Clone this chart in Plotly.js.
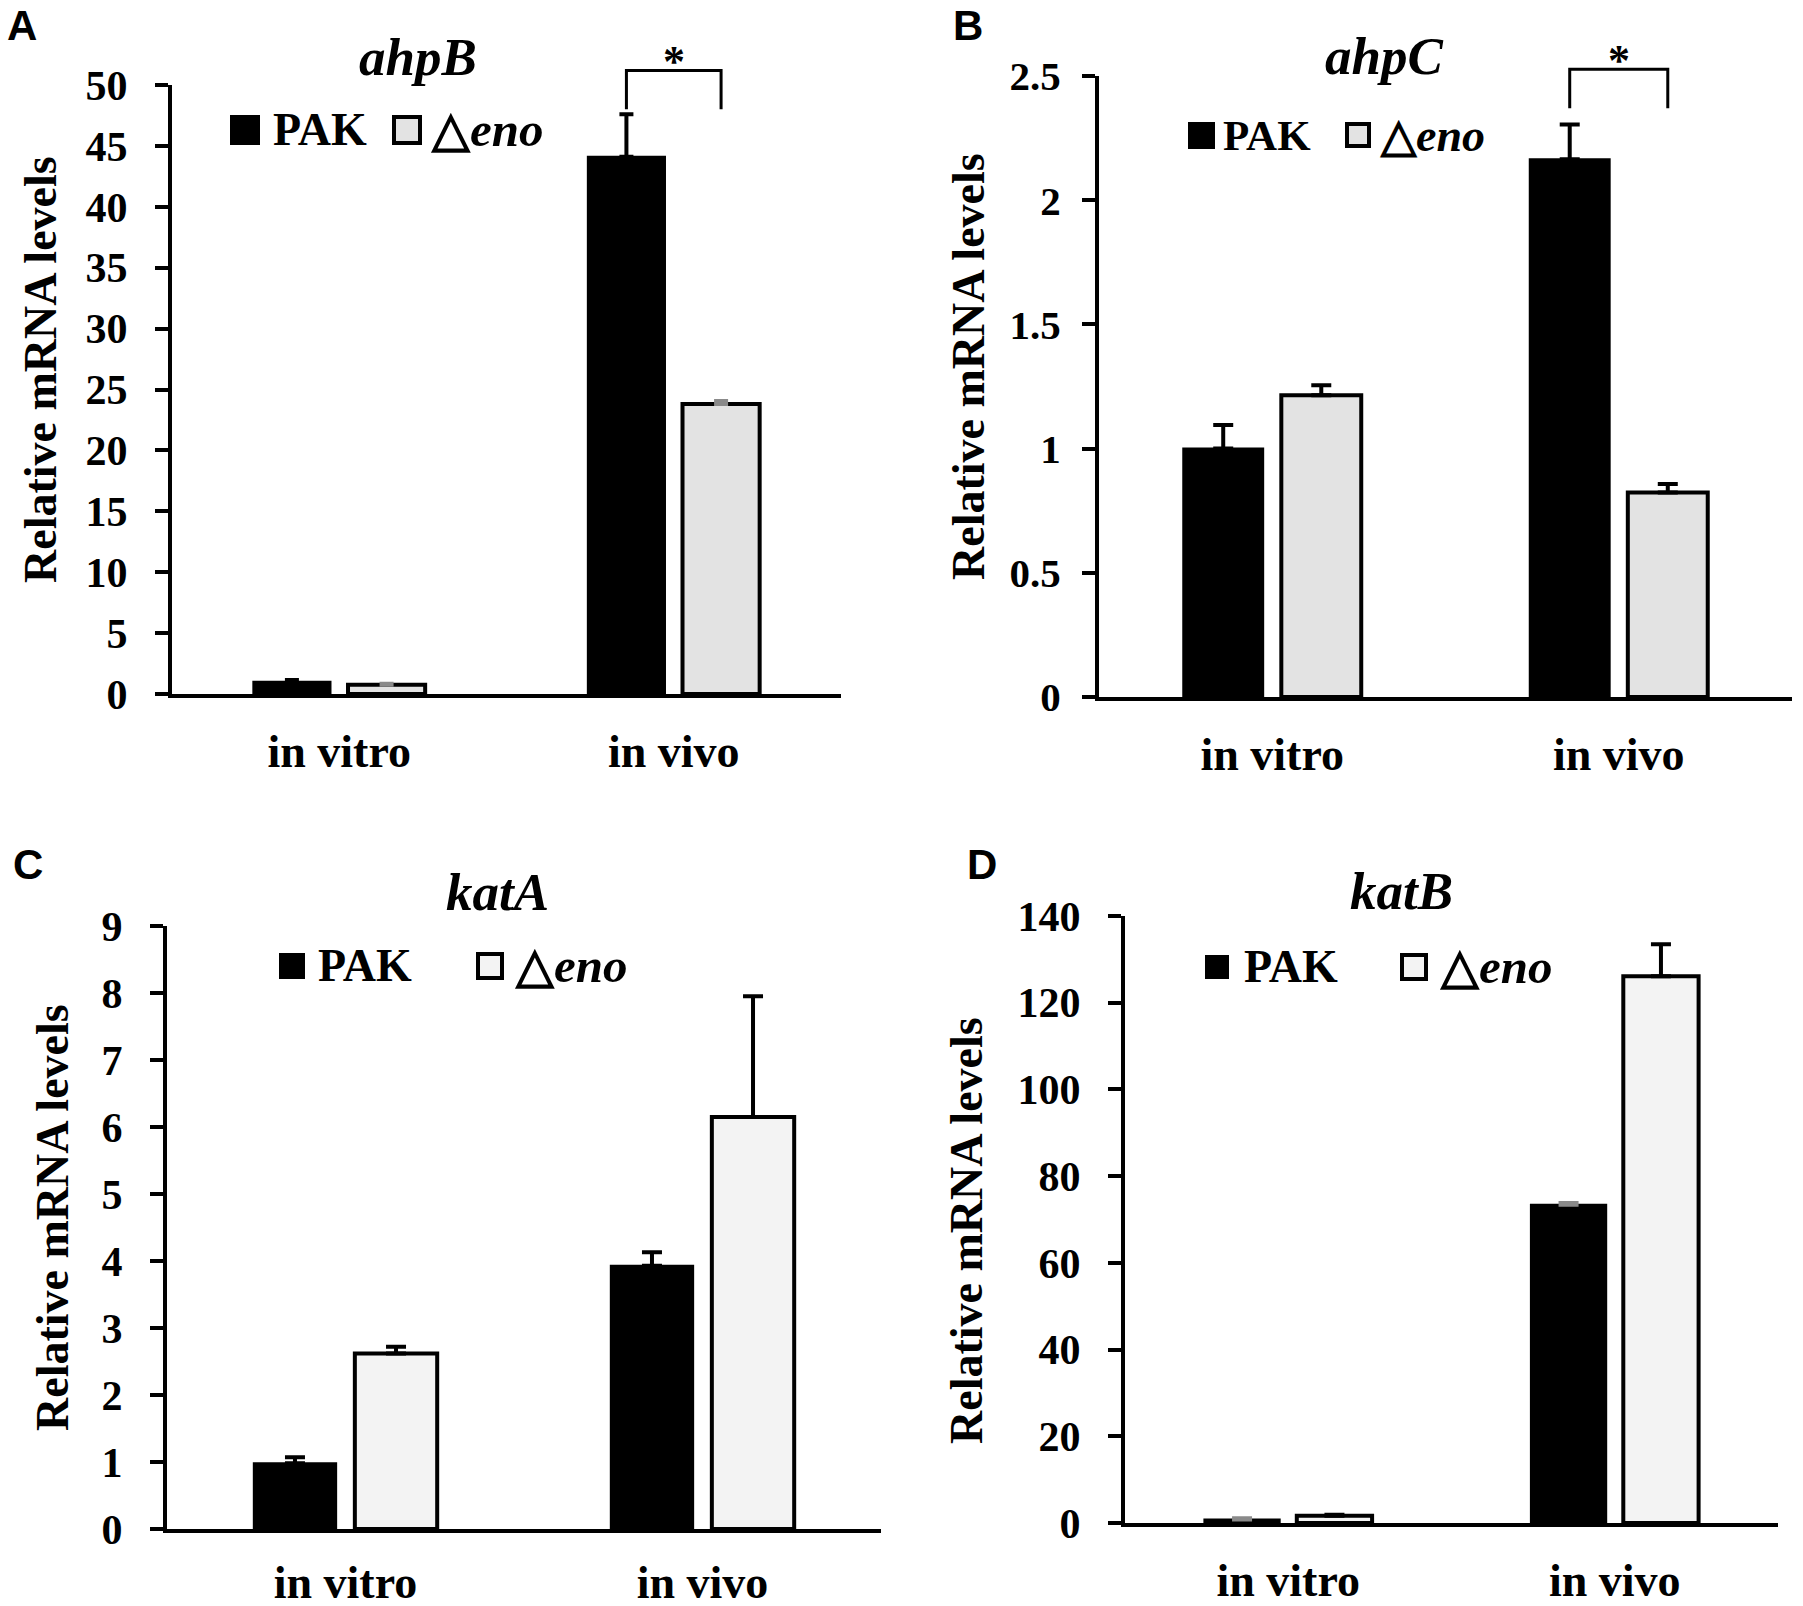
<!DOCTYPE html>
<html>
<head>
<meta charset="utf-8">
<script src="https://cdn.plot.ly/plotly-3.0.1.min.js"></script>
<style>
  html, body { margin: 0; padding: 0; background: #fff; }
  #fig { width: 1803px; height: 1606px; }
</style>
</head>
<body>
<div id="fig"></div>
<script>
// values (relative mRNA levels, mean + upper error)
const groups = ['in vitro', 'in vivo'];

const ahpB_PAK = [1.0, 44.1];
const ahpB_PAK_err = [0.15, 3.5];
const ahpB_eno = [0.75, 23.8];
const ahpB_eno_err = [0.1, 0.25];

const ahpC_PAK = [1.0, 2.165];
const ahpC_PAK_err = [0.095, 0.14];
const ahpC_eno = [1.215, 0.823];
const ahpC_eno_err = [0.04, 0.034];

const katA_PAK = [0.98, 3.93];
const katA_PAK_err = [0.09, 0.2];
const katA_eno = [2.62, 6.15];
const katA_eno_err = [0.1, 1.8];

const katB_PAK = [0.8, 73.4];
const katB_PAK_err = [0.3, 0.4];
const katB_eno = [1.7, 126.1];
const katB_eno_err = [0.2, 7.4];

// significance brackets (y of leg end, y of top) for ahpB / ahpC in vivo
const ahpB_sig = [48.0, 51.2];
const ahpC_sig = [2.37, 2.527];

const W = 1803, H = 1606;
const px = v => v / W;
const py = v => 1 - v / H;

const serif = 'Liberation Serif, Times New Roman, serif';
const sans = 'Liberation Sans, Arial, sans-serif';
const BARGAP = 0.434;
const GROUPGAP = 0.185;

// panel geometry in page pixels
const panels = [
  { id: '',  letter: 'A', gene: 'ahpB', xd: [172, 841], yd: [694, 85],   ymax: 50,  dtick: 5,
    pak: ahpB_PAK, pakErr: ahpB_PAK_err, eno: ahpB_eno, enoErr: ahpB_eno_err,
    enoFill: '#e3e3e3', pakErrColor: '#000', enoErrColor: '#8a8a8a', cap: 7, sig: ahpB_sig,
    tickSize: 42, tickGap: 19, catGap: 14, ytitlePos: [40, 370],
    letterPos: [22, 26], titlePos: [418, 57], leg: { sq1: [230, 115, 30], t1: 271, sq2: [392, 115, 30], t2: 428, size: 46 } },
  { id: '2', letter: 'B', gene: 'ahpC', xd: [1099, 1792], yd: [697, 76],  ymax: 2.5, dtick: 0.5,
    pak: ahpC_PAK, pakErr: ahpC_PAK_err, eno: ahpC_eno, enoErr: ahpC_eno_err,
    enoFill: '#e3e3e3', pakErrColor: '#000', enoErrColor: '#000', cap: 10, sig: ahpC_sig,
    tickSize: 41, tickGap: 13, catGap: 14, ytitlePos: [968, 366],
    letterPos: [968, 26], titlePos: [1384, 56], leg: { sq1: [1188, 122, 27], t1: 1221, sq2: [1345, 122, 26], t2: 1377, size: 43 } },
  { id: '3', letter: 'C', gene: 'katA', xd: [167, 881], yd: [1529, 926], ymax: 9,   dtick: 1,
    pak: katA_PAK, pakErr: katA_PAK_err, eno: katA_eno, enoErr: katA_eno_err,
    enoFill: '#f3f3f3', pakErrColor: '#000', enoErrColor: '#000', cap: 10, sig: null,
    tickSize: 42, tickGap: 19, catGap: 10, ytitlePos: [52, 1218],
    letterPos: [28, 864], titlePos: [498, 892], leg: { sq1: [279, 953, 26], t1: 316, sq2: [476, 952, 28], t2: 512, size: 46 } },
  { id: '4', letter: 'D', gene: 'katB', xd: [1125, 1778], yd: [1523, 916], ymax: 140, dtick: 20,
    pak: katB_PAK, pakErr: katB_PAK_err, eno: katB_eno, enoErr: katB_eno_err,
    enoFill: '#f3f3f3', pakErrColor: '#8a8a8a', enoErrColor: '#000', cap: 10, sig: null,
    tickSize: 42, tickGap: 19, catGap: 14, ytitlePos: [966, 1230],
    letterPos: [982, 864], titlePos: [1401, 891], leg: { sq1: [1205, 955, 24], t1: 1242, sq2: [1400, 953, 28], t2: 1437, size: 46 } }
];

const xpos = groups.map((g, i) => i);
const traces = [];
const layout = {
  width: W, height: H,
  margin: { l: 0, r: 0, t: 0, b: 0 },
  paper_bgcolor: '#fff', plot_bgcolor: 'rgba(0,0,0,0)',
  barmode: 'group', bargap: BARGAP, bargroupgap: GROUPGAP,
  showlegend: false,
  shapes: [], annotations: []
};

panels.forEach(p => {
  const xa = 'x' + p.id, ya = 'y' + p.id;
  traces.push({
    type: 'bar', name: 'PAK', x: xpos, y: p.pak, xaxis: xa, yaxis: ya,
    marker: { color: '#000', line: { color: '#000', width: 2 } },
    error_y: { type: 'data', symmetric: false, array: p.pakErr, arrayminus: [0, 0],
               color: p.pakErrColor, thickness: 4, width: p.cap }
  });
  traces.push({
    type: 'bar', name: 'Δeno', x: xpos, y: p.eno, xaxis: xa, yaxis: ya,
    marker: { color: p.enoFill, line: { color: '#000', width: 4 } },
    error_y: { type: 'data', symmetric: false, array: p.enoErr, arrayminus: [0, 0],
               color: p.enoErrColor, thickness: 4, width: p.cap }
  });

  layout['xaxis' + p.id] = {
    domain: [px(p.xd[0]), px(p.xd[1])], anchor: ya,
    range: [-0.5, 1.5], tickvals: xpos, ticktext: groups,
    showline: true, linewidth: 4, linecolor: '#000', ticks: '',
    showgrid: false, zeroline: false, fixedrange: true,
    ticklabelstandoff: p.catGap,
    tickfont: { family: serif, size: 46, color: '#000', weight: 'bold' }
  };
  layout['yaxis' + p.id] = {
    domain: [py(p.yd[0]), py(p.yd[1])], anchor: xa,
    range: [0, p.ymax], dtick: p.dtick, tick0: 0,
    showline: true, linewidth: 4, linecolor: '#000',
    ticks: 'outside', ticklen: 13, tickwidth: 4, tickcolor: '#000',
    showgrid: false, zeroline: false, fixedrange: true,
    ticklabelstandoff: p.tickGap,
    tickfont: { family: serif, size: p.tickSize, color: '#000', weight: 'bold' }
  };

  // y-axis title, placed where it sits in the figure (slightly above axis centre)
  layout.annotations.push({
    xref: 'paper', yref: 'paper', x: px(p.ytitlePos[0]), y: py(p.ytitlePos[1]),
    xanchor: 'center', yanchor: 'middle', textangle: -90,
    text: 'Relative mRNA levels', showarrow: false,
    font: { family: serif, size: 46, color: '#000', weight: 'bold' }
  });

  // significance bracket: x in data units, y as fraction of the y-axis length
  if (p.sig) {
    const o = (1 - BARGAP) / 4;
    const lo = p.sig[0] / p.ymax, hi = p.sig[1] / p.ymax;
    layout.shapes.push({
      type: 'path', xref: xa, yref: ya + ' domain',
      path: `M ${1 - o},${lo} L ${1 - o},${hi} L ${1 + o},${hi} L ${1 + o},${lo}`,
      line: { color: '#000', width: 3 }
    });
    layout.annotations.push({
      xref: xa, yref: ya + ' domain', x: 1, y: hi, yanchor: 'bottom', yshift: -18,
      text: '*', showarrow: false,
      font: { family: serif, size: 44, color: '#000', weight: 'bold' }
    });
  }

  // panel letter and gene title
  layout.annotations.push({
    xref: 'paper', yref: 'paper', x: px(p.letterPos[0]), y: py(p.letterPos[1]),
    xanchor: 'center', yanchor: 'middle', text: p.letter, showarrow: false,
    font: { family: sans, size: 42, color: '#000', weight: 'bold' }
  });
  layout.annotations.push({
    xref: 'paper', yref: 'paper', x: px(p.titlePos[0]), y: py(p.titlePos[1]),
    xanchor: 'center', yanchor: 'middle', text: '<i>' + p.gene + '</i>', showarrow: false,
    font: { family: serif, size: 53, color: '#000', weight: 'bold' }
  });

  // legend: filled square PAK, outlined square Δeno
  const L = p.leg;
  layout.shapes.push({
    type: 'rect', xref: 'paper', yref: 'paper',
    x0: px(L.sq1[0]), x1: px(L.sq1[0] + L.sq1[2]), y0: py(L.sq1[1] + L.sq1[2]), y1: py(L.sq1[1]),
    fillcolor: '#000', line: { width: 0 }
  });
  layout.shapes.push({
    type: 'rect', xref: 'paper', yref: 'paper',
    x0: px(L.sq2[0] + 2), x1: px(L.sq2[0] + L.sq2[2] - 2), y0: py(L.sq2[1] + L.sq2[2] - 2), y1: py(L.sq2[1] + 2),
    fillcolor: p.enoFill, line: { color: '#000', width: 4 }
  });
  const cy = L.sq1[1] + L.sq1[2] / 2;
  layout.annotations.push({
    xref: 'paper', yref: 'paper', x: px(L.t1), y: py(cy), xanchor: 'left', yanchor: 'middle',
    text: 'PAK', showarrow: false,
    font: { family: serif, size: L.size, color: '#000', weight: 'bold' }
  });
  layout.annotations.push({
    xref: 'paper', yref: 'paper', x: px(L.t2), y: py(cy), xanchor: 'left', yanchor: 'middle',
    text: '△<i>eno</i>', showarrow: false,
    font: { family: serif, size: L.size + 3, color: '#000', weight: 'bold' }
  });
});

Plotly.newPlot('fig', traces, layout, { staticPlot: true });
</script>
</body>
</html>
